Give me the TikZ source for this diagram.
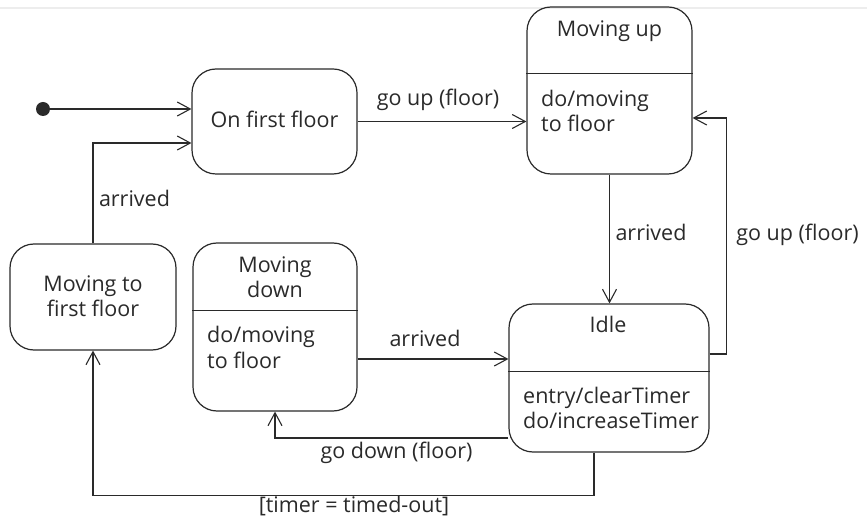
\documentclass[tikz,border=0pt]{standalone}
\usepackage{fontspec}
\setmainfont{Open Sans}
\usetikzlibrary{arrows.meta}

\definecolor{ink}{HTML}{2A2A2A}
\tikzset{
  state/.style={draw=ink, line width=1.2pt, rounded corners=24pt, inner sep=0pt},
  txt/.style={text=ink, inner sep=0pt, anchor=base, font=\fontsize{21.5}{25}\selectfont},
  txtl/.style={txt, anchor=base west},
  arr/.style={draw=ink, line width=1.1pt,
    -{Straight Barb[length=13pt, width=14pt, line width=1.1pt]}},
}

\begin{document}
\begin{tikzpicture}[x=1pt, y=-1pt]
  \useasboundingbox (0,0) rectangle (867,518);
  \fill[white] (0,0) rectangle (867,518);
  \draw[black!7, line width=2pt] (0,8) -- (867,8);

  % states
  \node[state, minimum width=165pt, minimum height=105pt] (first) at (274.5,121.5) {};
  \node[state, minimum width=165pt, minimum height=167pt] (up)    at (609.5,90.5) {};
  \node[state, minimum width=166pt, minimum height=106pt] (mtf)   at (93,297) {};
  \node[state, minimum width=164pt, minimum height=168pt] (down)  at (275,327) {};
  \node[state, minimum width=200pt, minimum height=148pt] (idle)  at (609,378) {};

  % compartment dividers
  \draw[ink, line width=1.2pt] ([yshift=-67pt]up.north west) -- ([yshift=-67pt]up.north east);
  \draw[ink, line width=1.2pt] ([yshift=-68pt]down.north west) -- ([yshift=-68pt]down.north east);
  \draw[ink, line width=1.2pt] ([yshift=-68pt]idle.north west) -- ([yshift=-68pt]idle.north east);

  % initial state
  \node[circle, fill=ink, minimum size=14pt, inner sep=0pt] (init) at (43,109) {};

  % state texts
  \node[txt] (tfirst) at (274.5,128) {On first floor};
  \node[txt] (tup) at (609.5,37) {Moving up};
  \node[txtl] (tup1) at (541,107) {do/moving};
  \node[txtl] (tup2) at (541,132) {to floor};
  \node[txt] (tmtf1) at (93,292) {Moving to};
  \node[txt] (tmtf2) at (93,317) {first floor};
  \node[txt] (tdown1) at (275,273) {Moving};
  \node[txt] (tdown2) at (275,298) {down};
  \node[txtl] (tdown3) at (207,343) {do/moving};
  \node[txtl] (tdown4) at (207,368) {to floor};
  \node[txt] (tidle) at (608,333) {Idle};
  \node[txtl] (tidle1) at (523,403) {entry/clearTimer};
  \node[txtl] (tidle2) at (523,428) {do/increaseTimer};

  % transitions
  \draw[arr] (init) -- (init -| first.west);
  \draw[arr] (first.east) -- (first.east -| up.west);
  \draw[arr] (mtf.north) |- ([yshift=-21.5pt]first.west);
  \draw[arr] (up.south) -- (up.south |- idle.north);
  \draw[arr] ([yshift=24pt]idle.east) -- ++(17,0) |- ([yshift=-27.5pt]up.east);
  \draw[arr] ([yshift=-32pt]down.east) -- ([yshift=-32pt]down.east -| idle.west);
  \draw[arr] ([yshift=-60pt]idle.west) -| (down.south);
  \draw[arr] ([xshift=-15pt]idle.south) -- ++(0,43) -| (mtf.south);

  % transition labels
  \node[txt] (lgoup) at (438,106) {go up (floor)};
  \node[txt] (larr1) at (134.5,207) {arrived};
  \node[txt] (larr2) at (651,241) {arrived};
  \node[txt] (lgoup2) at (797.5,241) {go up (floor)};
  \node[txt] (larr3) at (425,346) {arrived};
  \node[txt] (lgodown) at (396.5,458) {go down (floor)};
  \node[txt] (ltimer) at (354,512) {[timer = timed-out]};
\end{tikzpicture}
\end{document}
